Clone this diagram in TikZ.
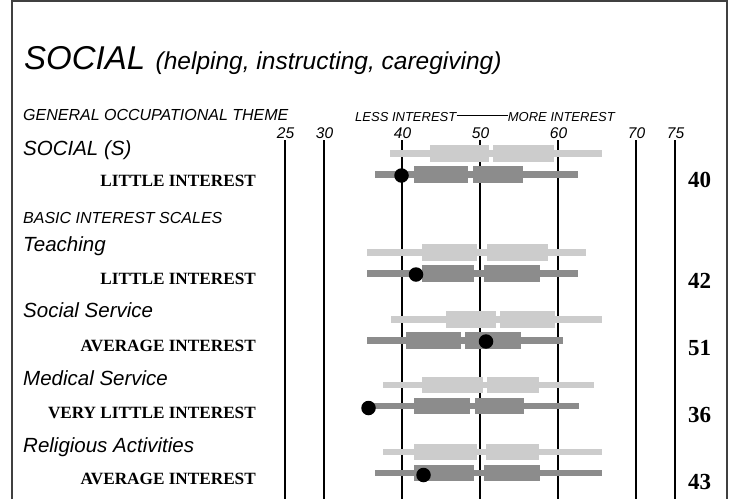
\documentclass[tikz,border=0pt]{standalone}
\usepackage{fontspec}
\setmainfont{Liberation Serif}
\newfontfamily\sansf{Liberation Sans}
\definecolor{lgray}{RGB}{204,204,204}
\definecolor{dgray}{RGB}{140,140,140}
\definecolor{frame}{RGB}{64,64,64}
\newcommand\bargroup[8]{%
  \fill[#8] (#2,{#1-3.4}) rectangle (#3,{#1+3.4});
  \fill[#8] (#4,{#1-8.3}) rectangle (#5,{#1+8.3});
  \fill[#8] (#6,{#1-8.3}) rectangle (#7,{#1+8.3});
}
\begin{document}
\begin{tikzpicture}[x=1pt,y=-1pt,
  scaleline/.style={line width=1.3pt,black},
  frameline/.style={line width=1.8pt,frame},
  title/.style={anchor=base west,inner sep=0pt,font=\sansf\itshape\fontsize{33}{37}\selectfont},
  subtitle/.style={anchor=base west,inner sep=0pt,font=\sansf\itshape\fontsize{24.5}{28}\selectfont},
  smallhead/.style={anchor=base west,inner sep=0pt,font=\sansf\itshape\fontsize{16}{18}\selectfont},
  axislab/.style={anchor=base west,inner sep=0pt,font=\sansf\itshape\fontsize{13}{15}\selectfont},
  scalenum/.style={anchor=base,inner sep=0pt,font=\sansf\itshape\fontsize{15.5}{18}\selectfont},
  scalename/.style={anchor=base west,inner sep=0pt,font=\sansf\itshape\fontsize{20.5}{24}\selectfont},
  status/.style={anchor=base east,inner sep=0pt,font=\bfseries\fontsize{17.2}{20}\selectfont},
  score/.style={anchor=base,inner sep=0pt,font=\bfseries\fontsize{23}{26}\selectfont},
  dot/.style={circle,fill=black,inner sep=0pt,minimum size=14.5pt}]
\useasboundingbox (0,0) rectangle (733,499);
\fill[white] (0,0) rectangle (733,499);
% frame
\draw[frameline] (12,499) -- (12,1) -- (727,1) -- (727,499);
% scale lines
\foreach \v/\n in {25/s25,30/s30,40/s40,50/s50,60/s60,70/s70,75/s75}{
  \coordinate (\n) at ({480+(\v-50)*7.8},140);
  \draw[scaleline] (\n) -- ++(0,359);
  \node[scalenum] at ({480+(\v-50)*7.8+0.5},138) {\v};
}
% headings
\node[title] (ttl) at (24,69) {SOCIAL};
\node[subtitle] (sub) at (155.5,69) {(helping, instructing, caregiving)};
\node[smallhead] (got) at (23,120.7) {GENERAL OCCUPATIONAL THEME};
\node[axislab] (less) at (355,121.5) {LESS INTEREST};
\node[axislab,anchor=base east] (more) at (615,121.5) {MORE INTEREST};
\draw[line width=0.8pt] (less.east |- 0,115) -- (more.west |- 0,115);
\node[smallhead] (bis) at (23,223) {BASIC INTEREST SCALES};
% row names and statuses
\node[scalename] (n1) at (23,155) {SOCIAL (S)};
\node[status] (t1) at (256,186.5) {LITTLE INTEREST};
\node[scalename] (n2) at (23,251) {Teaching};
\node[status] (t2) at (256,284) {LITTLE INTEREST};
\node[scalename] (n3) at (23,317.5) {Social Service};
\node[status] (t3) at (256,351.5) {AVERAGE INTEREST};
\node[scalename] (n4) at (23,385) {Medical Service};
\node[status] (t4) at (256,418) {VERY LITTLE INTEREST};
\node[scalename] (n5) at (23,452) {Religious Activities};
\node[status] (t5) at (256,484.5) {AVERAGE INTEREST};
% bars
\bargroup{153.5}{390}{602}{430}{489}{493}{554}{lgray}
\bargroup{174.5}{375}{578}{414}{468}{473}{523}{dgray}
\bargroup{252.5}{367}{586}{422}{477}{487}{548}{lgray}
\bargroup{273.5}{367}{578}{422}{474}{484}{540}{dgray}
\bargroup{319.5}{391}{602}{446}{496}{500}{555}{lgray}
\bargroup{340.5}{367}{563}{406}{461}{465}{521}{dgray}
\bargroup{385}{383}{594}{422}{483}{487}{539}{lgray}
\bargroup{406}{368}{579}{414}{470}{475}{524}{dgray}
\bargroup{452}{383}{602}{414}{477}{486}{539}{lgray}
\bargroup{473}{375}{602}{414}{474}{484}{540}{dgray}
% dots
\node[dot] (d1) at (401.5,175.5) {};
\node[dot] (d2) at (416,274.5) {};
\node[dot] (d3) at (486,341.5) {};
\node[dot] (d4) at (368.5,408) {};
\node[dot] (d5) at (423.5,475) {};
% scores
\node[score] (c1) at (699.5,187) {40};
\node[score] (c2) at (699.5,288) {42};
\node[score] (c3) at (699.5,355) {51};
\node[score] (c4) at (699.5,422) {36};
\node[score] (c5) at (699.5,489) {43};
\end{tikzpicture}
\end{document}
